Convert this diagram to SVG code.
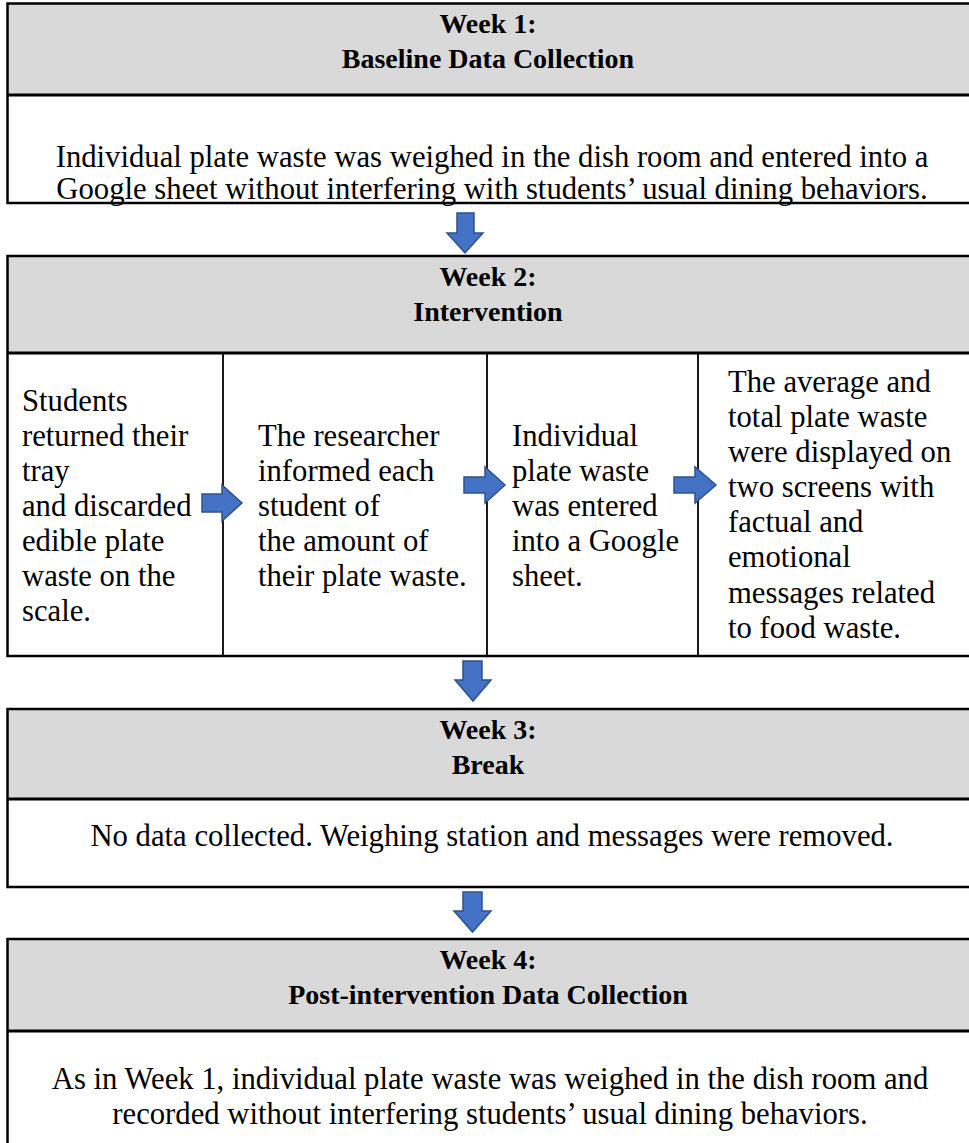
<svg xmlns="http://www.w3.org/2000/svg" width="969" height="1143" viewBox="0 0 969 1143">
<style>
.hdr{fill:#D9D9D9;stroke:none}
.box{fill:none;stroke:#000;stroke-width:2.5}
.div{stroke:#000;stroke-width:3}
.col{stroke:#000;stroke-width:1.8}
.t{font-family:"Liberation Serif","Times New Roman",serif;font-size:30.7px;fill:#000}
.b{font-weight:bold;text-anchor:middle;font-size:28px}
.c{text-anchor:middle}
.arr{fill:#4472C4;stroke:#2F528F;stroke-width:1.5;stroke-linejoin:miter}
</style>
<rect width="969" height="1143" fill="#fff"/>

<g id="week1">
<rect class="hdr" x="7.5" y="3.5" width="1000" height="91.5"/>
<rect class="box" x="7.5" y="3.5" width="1000" height="199.5"/>
<line class="div" x1="7.5" y1="95" x2="1007.5" y2="95"/>
<text class="t b" x="488" y="33">Week 1:</text>
<text class="t b" x="488" y="68">Baseline Data Collection</text>
<text class="t c" x="492" y="167">Individual plate waste was weighed in the dish room and entered into a</text>
<text class="t c" x="492" y="199">Google sheet without interfering with students’ usual dining behaviors.</text>
</g>

<g id="week2">
<rect class="hdr" x="7.5" y="256" width="1000" height="97"/>
<rect class="box" x="7.5" y="256" width="1000" height="400"/>
<line class="div" x1="7.5" y1="353" x2="1007.5" y2="353"/>
<line class="col" x1="223" y1="353" x2="223" y2="656"/>
<line class="col" x1="487" y1="353" x2="487" y2="656"/>
<line class="col" x1="698" y1="353" x2="698" y2="656"/>
<text class="t b" x="488" y="286">Week 2:</text>
<text class="t b" x="488" y="321">Intervention</text>
<g id="step1">
<text class="t" x="22" y="411">Students</text>
<text class="t" x="22" y="446">returned their</text>
<text class="t" x="22" y="481">tray</text>
<text class="t" x="22" y="516">and discarded</text>
<text class="t" x="22" y="551">edible plate</text>
<text class="t" x="22" y="586">waste on the</text>
<text class="t" x="22" y="621">scale.</text>
</g>
<g id="step2">
<text class="t" x="258" y="446">The researcher</text>
<text class="t" x="258" y="481">informed each</text>
<text class="t" x="258" y="516">student of</text>
<text class="t" x="258" y="551">the amount of</text>
<text class="t" x="258" y="586">their plate waste.</text>
</g>
<g id="step3">
<text class="t" x="512" y="446">Individual</text>
<text class="t" x="512" y="481">plate waste</text>
<text class="t" x="512" y="516">was entered</text>
<text class="t" x="512" y="551">into a Google</text>
<text class="t" x="512" y="586">sheet.</text>
</g>
<g id="step4">
<text class="t" x="728" y="392">The average and</text>
<text class="t" x="728" y="427">total plate waste</text>
<text class="t" x="728" y="462">were displayed on</text>
<text class="t" x="728" y="497">two screens with</text>
<text class="t" x="728" y="532">factual and</text>
<text class="t" x="728" y="567">emotional</text>
<text class="t" x="728" y="603">messages related</text>
<text class="t" x="728" y="638">to food waste.</text>
</g>
</g>

<g id="week3">
<rect class="hdr" x="7.5" y="709" width="1000" height="90"/>
<rect class="box" x="7.5" y="709" width="1000" height="178"/>
<line class="div" x1="7.5" y1="799" x2="1007.5" y2="799"/>
<text class="t b" x="488" y="739">Week 3:</text>
<text class="t b" x="488" y="774">Break</text>
<text class="t c" x="492" y="846">No data collected. Weighing station and messages were removed.</text>
</g>

<g id="week4">
<rect class="hdr" x="7.5" y="939" width="1000" height="92"/>
<rect class="box" x="7.5" y="939" width="1000" height="220"/>
<line class="div" x1="7.5" y1="1031" x2="1007.5" y2="1031"/>
<text class="t b" x="488" y="969">Week 4:</text>
<text class="t b" x="488" y="1004">Post-intervention Data Collection</text>
<text class="t c" x="490" y="1089">As in Week 1, individual plate waste was weighed in the dish room and</text>
<text class="t c" x="490" y="1124">recorded without interfering students’ usual dining behaviors.</text>
</g>

<g id="connectors">
<polygon class="arr" points="457,213 474,213 474,233 483,233 465,253 447,233 457,233"/>
<polygon class="arr" points="463,661 482,661 482,680 491,680 473,701 455,680 463,680"/>
<polygon class="arr" points="463,892 482,892 482,911 491,911 472.5,932 454,911 463,911"/>
<polygon class="arr" points="202,494 222,494 222,485 242,503 222,521 222,512 202,512"/>
<polygon class="arr" points="464,477 485,477 485,467 505,485 485,503 485,493 464,493"/>
<polygon class="arr" points="674,477 695,477 695,467 716,485 695,503 695,493 674,493"/>
</g>
</svg>
